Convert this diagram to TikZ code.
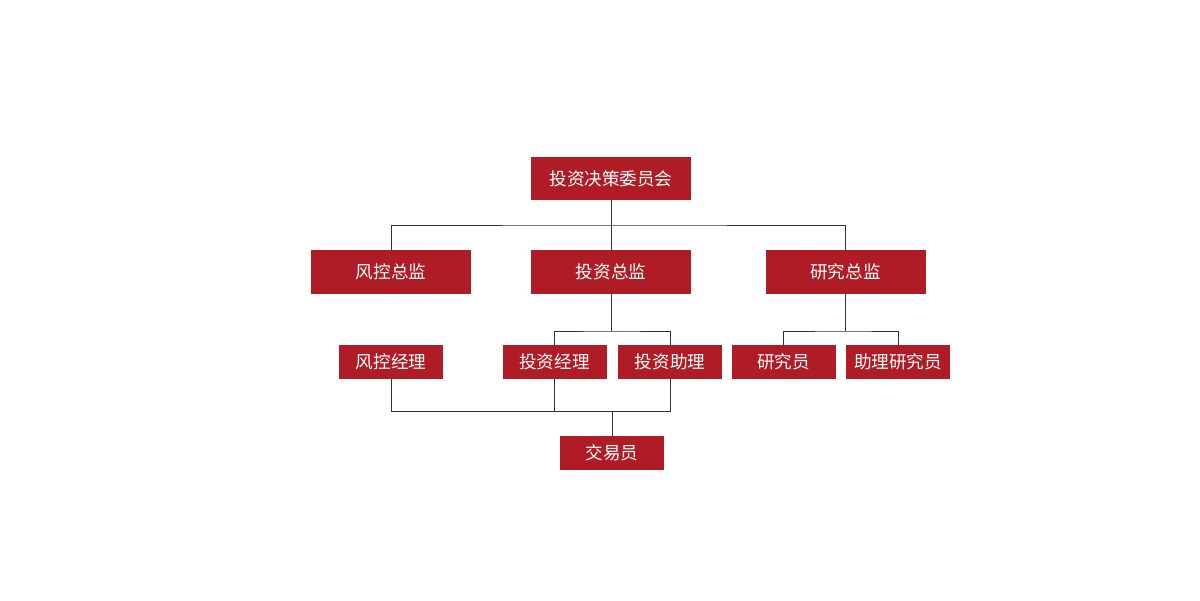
\documentclass[tikz,border=0pt]{standalone}
\usepackage{fontspec}
\setmainfont{Noto Sans CJK SC}
\usetikzlibrary{positioning}
\definecolor{boxred}{HTML}{B01C26}
\tikzset{
  bigbox/.style={fill=boxred,text=white,minimum width=4cm,minimum height=1.1cm,inner sep=0pt,font=\fontsize{12.5}{14}\selectfont},
  smallbox/.style={fill=boxred,text=white,minimum width=2.6cm,minimum height=0.85cm,inner sep=0pt,font=\fontsize{12.5}{14}\selectfont},
  link/.style={draw=black!80,line width=0.6pt}
}
\begin{document}
\begin{tikzpicture}
	\useasboundingbox (0,0) rectangle (30,-15);
	% boxes
	\node[bigbox,minimum height=1.075cm] (top) at (15.275,-4.4625) {投资决策委员会};
	\node[bigbox] (risk) at (9.775,-6.8) {风控总监};
	\node[bigbox] (inv) at (15.275,-6.8) {投资总监};
	\node[bigbox] (res) at (21.1375,-6.8) {研究总监};
	\node[smallbox] (riskm) at (9.775,-9.05) {风控经理};
	\node[smallbox] (invm) at (13.8625,-9.05) {投资经理};
	\node[smallbox] (inva) at (16.75,-9.05) {投资助理};
	\node[smallbox] (resr) at (19.5875,-9.05) {研究员};
	\node[smallbox] (resa) at (22.45,-9.05) {助理研究员};
	\node[smallbox] (trader) at (15.3,-11.325) {交易员};
	% junctions
	\coordinate (j1) at (15.275,-5.625);
	\coordinate (j2) at (15.275,-8.275);
	\coordinate (j3) at (21.1375,-8.275);
	\coordinate (j4) at (15.3,-10.275);
	% connectors
	\draw[link] (top) -- (j1);
	\draw[link] (risk.north) |- (j1) -| (res.north);
	\draw[link] (j1) -- (inv.north);
	\draw[link] (inv) -- (j2);
	\draw[link] (invm.north) |- (j2) -| (inva.north);
	\draw[link] (res) -- (j3);
	\draw[link] (resr.north) |- (j3) -| (resa.north);
	\draw[link] (riskm.south) |- (j4) -| (inva.south);
	\draw[link] (invm.south) -- (invm.south |- j4);
	\draw[link] (j4) -- (trader.north);
\end{tikzpicture}
\end{document}
